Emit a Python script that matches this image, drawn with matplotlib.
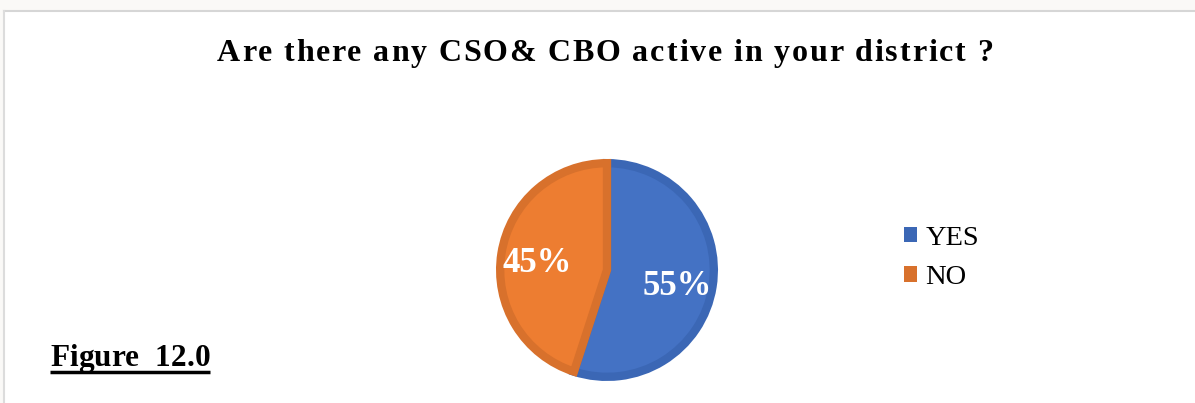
import matplotlib
matplotlib.use("Agg")
import matplotlib.pyplot as plt
from matplotlib.patches import Rectangle, Patch
from matplotlib.lines import Line2D
from matplotlib.font_manager import FontProperties

# data
labels = ["YES", "NO"]
shares = [55, 45]
colors = ["#4472C4", "#ED7D31"]
edge_colors = ["#3B67B5", "#D8712C"]
title = "Are there any CSO& CBO active in your district ?"
fig_label = "Figure  12.0"

W, H = 1195, 403
fig = plt.figure(figsize=(W / 100, H / 100), dpi=100)
fig.patch.set_facecolor("#faf9f7")
renderer = fig.canvas.get_renderer()


def tracked_text(s, x0, x1, ybase, size):
    # spread the characters of s between pixel x0 and x1 (letter-spaced text)
    prop = FontProperties(family="Liberation Serif", weight="bold", size=size)
    wid = lambda u: renderer.get_text_width_height_descent(u, prop, ismath=False)[0]
    track = ((x1 - x0) - wid(s)) / (len(s) - 1)
    for i, c in enumerate(s):
        if c == " ":
            continue
        x = x0 + wid(s[:i + 1]) - wid(c) + i * track
        fig.text(x / W, 1 - ybase / H, c, ha="left", va="baseline",
                 fontproperties=prop)


# white page panel with thin grey border on top / left
fig.patches.append(Rectangle((5 / W, 0), 1, 1 - 11 / H, transform=fig.transFigure,
                             facecolor="white", edgecolor="none", zorder=-10))
fig.lines.append(Line2D([4 / W, 1], [1 - 11 / H, 1 - 11 / H], transform=fig.transFigure,
                        color="#d6d6d6", lw=1.5, zorder=-5))
fig.lines.append(Line2D([4 / W, 4 / W], [0, 1 - 11 / H], transform=fig.transFigure,
                        color="#dcdcdc", lw=1.5, zorder=-5))

# pie axes: centre (607, 270) px, radius ~111 px
cx, cy, rad = 607, 270, 111
half = 1.08 * rad
ax = fig.add_axes([(cx - half) / W, 1 - (cy + half) / H, 2 * half / W, 2 * half / H])

lw = 6.0
r = 1 - (lw / 72 * 100 / 2) / rad
wedges, texts, autotexts = ax.pie(
    shares, colors=colors, startangle=90, counterclock=False, radius=r,
    autopct="%.0f%%", pctdistance=0.665,
    wedgeprops=dict(linewidth=lw, joinstyle="miter"),
    textprops=dict(color="white", fontsize=25, fontweight="bold",
                   family="Liberation Serif"))
for w, ec in zip(wedges, edge_colors):
    w.set_edgecolor(ec)
for t in autotexts:
    px, py = t.get_position()
    t.set_position((px, py - 5 / rad))
ax.set_xlim(-1.08, 1.08)
ax.set_ylim(-1.08, 1.08)
ax.set_aspect("equal")
ax.axis("off")

# title
tracked_text(title, 217, 993, 61, 23)

# legend
handles = [Patch(facecolor=c, edgecolor="none") for c in edge_colors]
fig.legend(handles, labels, loc="center left", bbox_to_anchor=(904 / W, 1 - 258 / H),
           frameon=False, handlelength=0.45, handleheight=0.45, handletextpad=0.3,
           labelspacing=0.5, borderaxespad=0, borderpad=0,
           prop=dict(family="Liberation Serif", size=20.5))

# figure label with underline
tracked_text(fig_label, 50, 210, 366, 22.5)
uy = 1 - 372 / H
fig.lines.append(Line2D([50 / W, 210 / W], [uy, uy], transform=fig.transFigure,
                        color="black", lw=2.5, solid_capstyle="butt"))

fig.savefig("out.png", dpi=100, facecolor=fig.get_facecolor())
